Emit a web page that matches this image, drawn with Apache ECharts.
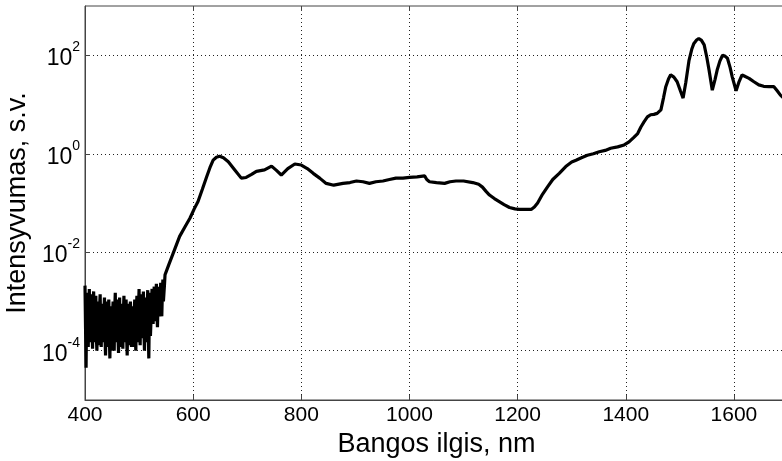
<!DOCTYPE html>
<html>
<head>
<meta charset="utf-8">
<script src="https://cdn.jsdelivr.net/npm/echarts@6/dist/echarts.min.js"></script>
<style>
html,body{margin:0;padding:0;background:#fff;}
#chart{width:782px;height:461px;}
</style>
</head>
<body>
<div id="chart"></div>
<script>
// Wavelength (nm) and intensity (a.u.)
const noiseWavelength = [400,401,402,403,404,405,406,407,408,409,410,411,412,413,414,415,416,417,418,419,420,421,422,423,424,425,426,427,428,429,430,431,432,433,434,435,436,437,438,439,440,441,442,443,444,445,446,447,448,449,450,451,452,453,454,455,456,457,458,459,460,461,462,463,464,465,466,467,468,469,470,471,472,473,474,475,476,477,478,479,480,481,482,483,484,485,486,487,488,489,490,491,492,493,494,495,496,497,498,499,500,501,502,503,504,505,506,507,508,509,510,511,512,513,514,515,516,517,518,519,520,521,522,523,524,525,526,527,528,529,530,531,532,533,534,535,536,537,538,539,540,541,542,543,544,545,546,547,548];
const noiseIntensity = [2.1e-3,3.0e-4,4.5e-5,9.0e-4,1.5e-3,2.0e-4,1.2e-4,6.0e-4,1.8e-3,1.5e-4,2.0e-4,8.0e-4,1.4e-3,2.5e-4,1.1e-4,1.0e-3,1.6e-3,1.5e-4,3.0e-4,7.0e-4,1.3e-3,2.0e-4,1.0e-4,6.0e-4,1.0e-3,1.3e-4,2.5e-4,7.0e-4,1.4e-3,3.0e-4,1.2e-4,5.0e-4,9.0e-4,1.5e-4,3.0e-4,6.0e-4,1.2e-3,2.0e-4,8.0e-5,5.0e-4,1.0e-3,1.2e-4,2.0e-4,6.0e-4,1.1e-3,2.0e-4,7.0e-5,4.0e-4,8.0e-4,1.0e-4,2.5e-4,6.0e-4,1.0e-3,2.0e-4,1.0e-4,7.0e-4,1.5e-3,1.5e-4,3.0e-4,6.0e-4,1.1e-3,2.0e-4,9.0e-5,5.0e-4,1.2e-3,1.2e-4,2.0e-4,5.0e-4,9.0e-4,2.0e-4,1.1e-4,6.0e-4,1.3e-3,1.5e-4,3.5e-4,5.0e-4,1.1e-3,2.0e-4,8.0e-5,4.0e-4,9.0e-4,1.3e-4,2.0e-4,6.0e-4,1.0e-3,2.0e-4,1.2e-4,5.0e-4,8.0e-4,1.2e-4,3.0e-4,6.0e-4,1.1e-3,2.0e-4,1.0e-4,7.0e-4,1.3e-3,1.5e-4,2.5e-4,8.0e-4,1.8e-3,2.5e-4,1.3e-4,7.0e-4,1.4e-3,1.8e-4,3.0e-4,8.0e-4,1.6e-3,2.5e-4,1.0e-4,6.0e-4,1.2e-3,1.5e-4,2.0e-4,7.0e-4,1.7e-3,2.5e-4,7.0e-5,6.0e-4,1.5e-3,2.0e-4,4.0e-4,9.0e-4,1.8e-3,5.0e-4,3.5e-4,1.0e-3,2.0e-3,4.0e-4,5.0e-4,1.1e-3,2.3e-3,6.0e-4,3.0e-4,9.0e-4,2.0e-3,5.0e-4,6.0e-4,1.2e-3,2.4e-3,7.0e-4,5.0e-4,1.4e-3,2.8e-3,1.0e-3,1.5e-3,2.2e-3,3.5e-3];
const mainWavelength = [550,555,563,575,585,594,602,609,617,625,631,637,643,649,656,665,677,689,698,708,717,732,745,754,763,775,788,800,811,822,834,846,860,877,890,902,914,926,938,951,963,975,988,1000,1014,1028,1032,1037,1050,1065,1075,1086,1100,1117,1128,1135,1142,1148,1157,1166,1175,1185,1195,1203,1214,1225,1231,1237,1246,1255,1265,1277,1289,1300,1308,1318,1329,1340,1351,1362,1372,1385,1397,1406,1414,1422,1428,1434,1440,1446,1452,1458,1465,1470,1474,1479,1483,1489,1495,1501,1506,1511,1517,1522,1526,1531,1535,1540,1545,1550,1554,1560,1565,1569,1574,1579,1584,1588,1593,1597,1604,1609,1615,1621,1628,1637,1646,1655,1665,1674,1680,1686,1695];
const mainIntensity = [4.0e-3,5.6e-3,9.5e-3,0.021,0.033,0.049,0.076,0.107,0.19,0.34,0.52,0.74,0.85,0.89,0.83,0.69,0.47,0.32,0.33,0.38,0.44,0.47,0.56,0.46,0.37,0.50,0.62,0.59,0.50,0.40,0.32,0.25,0.23,0.25,0.26,0.28,0.27,0.25,0.27,0.28,0.30,0.32,0.32,0.33,0.34,0.355,0.30,0.27,0.26,0.25,0.27,0.28,0.28,0.26,0.24,0.21,0.17,0.145,0.123,0.107,0.093,0.081,0.076,0.074,0.074,0.074,0.083,0.10,0.15,0.21,0.30,0.40,0.55,0.68,0.74,0.83,0.93,1.0,1.10,1.17,1.29,1.38,1.51,1.74,2.1,2.57,3.5,4.5,5.6,6.2,6.3,6.6,7.8,14,23,33,40,36,29,19,13.5,28,79,132,174,204,219,200,162,89,50,19.5,32,50,76,100,95,87,56,36,19,28,40,37,34,29,25,23.4,23,23,19,15.5,12.6];
const xTicks = [400,600,800,1000,1200,1400,1600];
const yTicks = [1e-4,1e-2,1,1e2];

const wavelength = noiseWavelength.concat(mainWavelength);
const intensity = noiseIntensity.concat(mainIntensity);
const seriesData = wavelength.map((w, i) => [w, intensity[i]]);

const FONT = "'Liberation Sans', Arial, Helvetica, sans-serif";
const chart = echarts.init(document.getElementById('chart'), null, {renderer: 'canvas'});
const dotted = {color: '#222', width: 1, type: [1, 3]};
const tickStyle = {show: true, inside: true, length: 5, lineStyle: {color: '#444'}, customValues: xTicks};
chart.setOption({
  animation: false,
  backgroundColor: '#fff',
  grid: {left: 85, top: 6, right: -6, bottom: 61, show: true, borderColor: '#444', borderWidth: 1,
    containLabel: false, outerBoundsMode: 'none'},
  xAxis: [{
    type: 'value', min: 400, max: 1700, interval: 200,
    name: 'Bangos ilgis, nm', nameLocation: 'middle', nameGap: 26,
    nameTextStyle: {fontFamily: FONT, fontSize: 27, color: '#000'},
    axisLine: {show: true, lineStyle: {color: '#444'}},
    axisTick: tickStyle,
    axisLabel: {fontFamily: FONT, fontSize: 21, color: '#000', margin: 5, customValues: xTicks,
      formatter: v => String(v)},
    splitLine: {show: true, lineStyle: dotted}
  }, {
    type: 'value', min: 400, max: 1700, interval: 200, position: 'top',
    axisLine: {show: false}, axisLabel: {show: false}, splitLine: {show: false},
    axisTick: tickStyle
  }],
  yAxis: {
    type: 'log', logBase: 10, min: 1e-5, max: 1e3,
    name: 'Intensyvumas, s.v.', nameLocation: 'middle', nameGap: 42,
    nameTextStyle: {fontFamily: FONT, fontSize: 27, color: '#000'},
    axisLine: {show: true, lineStyle: {color: '#444'}},
    axisTick: {show: true, inside: true, length: 5, lineStyle: {color: '#444'}, customValues: yTicks},
    axisLabel: {
      customValues: yTicks, margin: 5,
      formatter: v => '{b|10}{s|' + Math.round(Math.log10(v)) + '}',
      rich: {
        b: {fontFamily: FONT, fontSize: 23, color: '#000', verticalAlign: 'bottom', lineHeight: 30},
        s: {fontFamily: FONT, fontSize: 14, color: '#000', verticalAlign: 'top', lineHeight: 30}
      }
    },
    splitLine: {show: true, lineStyle: dotted}
  },
  series: [{
    type: 'line', data: seriesData, showSymbol: false, symbol: 'none',
    lineStyle: {color: '#000', width: 3.2}, clip: true, sampling: null
  }]
});
</script>
</body>
</html>
